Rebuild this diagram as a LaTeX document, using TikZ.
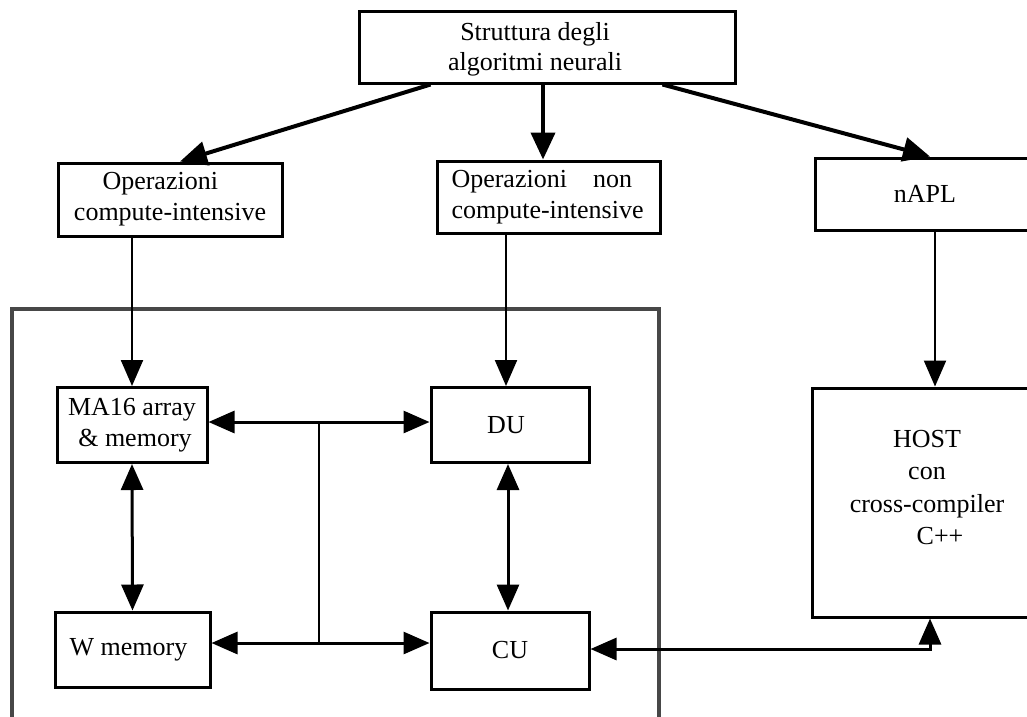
\documentclass[tikz,border=0pt]{standalone}
\usepackage{fontspec}
\setmainfont{Liberation Serif}
\usetikzlibrary{arrows.meta,calc}
\begin{document}
\begin{tikzpicture}[x=1pt,y=-1pt,
  every node/.style={font=\fontsize{26}{31}\selectfont},
  box/.style={draw=black, line width=3pt, rectangle, inner sep=0pt, align=center},
  arr/.style={-{Triangle[length=26pt,width=22pt]}, line width=3pt},
  darr/.style={{Triangle[length=26pt,width=22pt]}-{Triangle[length=26pt,width=22pt]}, line width=3pt},
  bigarr/.style={-{Triangle[length=27pt,width=24pt]}, line width=4pt},
  thinarr/.style={-{Triangle[length=26pt,width=22pt]}, line width=2.2pt}]
\useasboundingbox (0,0) rectangle (1027,716);
\clip (0,0) rectangle (1027,716);
\fill[white] (0,0) rectangle (1027,716);

% outer gray frame
\draw[line width=4pt, draw=black!72] (12,309) rectangle (659,780);

% top
\node[box, minimum width=376pt, minimum height=72pt,
  label={[xshift=-12pt, yshift=-2pt, align=center, font=\fontsize{26}{30}\selectfont]center:Struttura degli\\algoritmi neurali}] (top) at (547,47) {};

% second row
\node[box, minimum width=224pt, minimum height=73pt] (opci) at (170,199.5)
  {\makebox[135pt][l]{Operazioni}\\compute-intensive};
\node[box, minimum width=223pt, minimum height=72pt, text width=194pt, align=left] (opnci) at (548.5,197)
  {Operazioni\hspace{26pt}non\\compute-intensive};
\node[box, minimum width=240pt, minimum height=72pt,
  label={[xshift=-10pt]center:nAPL}] (napl) at (935,194) {};

% inner boxes
\node[box, minimum width=150pt, minimum height=75pt] (ma16) at (132,425)
  {MA16 array\\\makebox[110pt][c]{\hspace{6pt}\& memory}};
\node[box, minimum width=155pt, minimum height=75pt] (wmem) at (132.5,649.5)
  {\makebox[130pt][c]{W memory\hspace{8pt}}};
\node[box, minimum width=158pt, minimum height=75pt] (du) at (510,425)
  {\makebox[60pt][c]{DU\hspace{8pt}}};
\node[box, minimum width=158pt, minimum height=77pt] (cu) at (510,650.5) {CU};

% host
\node[box, minimum width=240pt, minimum height=229pt,
  label={[xshift=-5pt, yshift=15pt, align=center, font=\fontsize{26}{32.5}\selectfont]center:HOST\\con\\cross-compiler\\\hspace{26pt}C++}] (host) at (932,502.5) {};

% arrows from top
\coordinate (tl) at ($(top.south west)+(73,0)$);
\coordinate (tm) at ($(top.south)+(-4,0)$);
\coordinate (tr) at ($(top.south east)+(-74,0)$);
\draw[bigarr] (tl) -- ($(opci.north)+(10,0)$);
\draw[bigarr] (tm) -- (tm |- opnci.north);
\draw[bigarr] (tr) -- ($(napl.north)+(-5,0)$);

% down arrows
\draw[thinarr] (ma16.north |- opci.south) -- (ma16.north);
\coordinate (dm) at ($(du.north)+(-4,0)$);
\draw[thinarr] (dm |- opnci.south) -- (dm);
\draw[thinarr] (napl.south) -- (napl.south |- host.north);

% bus
\coordinate (bt) at (319,422);
\coordinate (bb) at (319,643);
\draw[line width=2pt] (bt) -- (bb);
\draw[arr] (bt) -- (ma16.east |- bt);
\draw[arr] (bt) -- (du.west |- bt);
\draw[arr] (bb) -- (wmem.east |- bb);
\draw[arr] (bb) -- (cu.west |- bb);

% vertical links
\draw[darr] (ma16.south) -- (wmem.north);
\draw[darr] ($(du.south)+(-2,0)$) -- ($(cu.north)+(-2,0)$);

% CU - HOST
\draw[darr] ($(cu.east)+(0,-1.5)$) -| ($(host.south)+(-2,0)$);
\end{tikzpicture}
\end{document}
